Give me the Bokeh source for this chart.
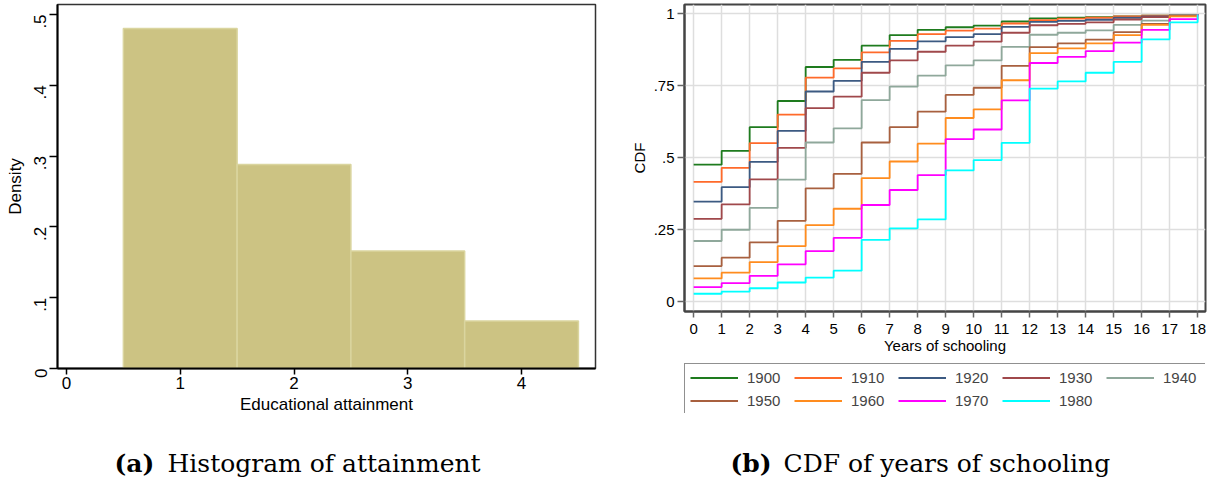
import math
from bokeh.plotting import figure
from bokeh.models import Range1d, FixedTicker, Legend, LegendItem
from bokeh.layouts import row, column
from bokeh.embed import file_html
from bokeh.resources import INLINE
from bokeh.core.properties import value

# ---------------- data ----------------
attain_levels = [1, 2, 3, 4]
attain_density = [0.480, 0.288, 0.166, 0.067]
hist_xticks = [0, 1, 2, 3, 4]
hist_yticks = [0, 0.1, 0.2, 0.3, 0.4, 0.5]
hist_ylabels = ["0", ".1", ".2", ".3", ".4", ".5"]

years = list(range(19))
cdf_yticks = [0, 0.25, 0.5, 0.75, 1]
cdf_ylabels = ["0", ".25", ".5", ".75", "1"]
cohorts = ["1900", "1910", "1920", "1930", "1940", "1950", "1960", "1970", "1980"]
cdf_1900 = [0.476, 0.524, 0.606, 0.697, 0.815, 0.840, 0.889, 0.926, 0.944, 0.953, 0.959, 0.973, 0.984, 0.986, 0.988, 0.991, 0.993, 0.995, 0.997]
cdf_1910 = [0.416, 0.465, 0.551, 0.650, 0.778, 0.810, 0.866, 0.906, 0.929, 0.941, 0.948, 0.966, 0.978, 0.983, 0.986, 0.991, 0.993, 0.995, 0.997]
cdf_1920 = [0.348, 0.398, 0.486, 0.593, 0.730, 0.767, 0.833, 0.878, 0.904, 0.919, 0.929, 0.954, 0.972, 0.975, 0.979, 0.986, 0.991, 0.995, 0.997]
cdf_1930 = [0.288, 0.338, 0.425, 0.534, 0.672, 0.712, 0.795, 0.838, 0.868, 0.889, 0.903, 0.934, 0.960, 0.965, 0.970, 0.980, 0.988, 0.994, 0.997]
cdf_1940 = [0.211, 0.250, 0.326, 0.424, 0.553, 0.602, 0.700, 0.747, 0.785, 0.821, 0.838, 0.885, 0.927, 0.934, 0.942, 0.961, 0.976, 0.995, 0.997]
cdf_1950 = [0.124, 0.153, 0.206, 0.281, 0.394, 0.444, 0.553, 0.606, 0.660, 0.718, 0.743, 0.819, 0.884, 0.897, 0.910, 0.936, 0.965, 0.993, 0.997]
cdf_1960 = [0.081, 0.101, 0.138, 0.193, 0.266, 0.323, 0.429, 0.487, 0.549, 0.638, 0.668, 0.769, 0.863, 0.880, 0.897, 0.926, 0.961, 0.991, 0.997]
cdf_1970 = [0.051, 0.065, 0.090, 0.130, 0.176, 0.222, 0.336, 0.388, 0.440, 0.565, 0.598, 0.699, 0.829, 0.850, 0.870, 0.900, 0.944, 0.981, 0.997]
cdf_1980 = [0.028, 0.035, 0.047, 0.067, 0.084, 0.108, 0.215, 0.255, 0.286, 0.456, 0.492, 0.552, 0.740, 0.765, 0.795, 0.833, 0.911, 0.970, 0.997]
cdf_series = [cdf_1900, cdf_1910, cdf_1920, cdf_1930, cdf_1940, cdf_1950, cdf_1960, cdf_1970, cdf_1980]
cohort_colors = ["#1E7B1E", "#FF6A2A", "#3C5A82", "#A0484B", "#8FA89B",
                 "#A8603F", "#FF8C1E", "#FF00FF", "#00FFFF"]

caption_tags = ["(a)", "(b)"]
caption_texts = ["Histogram of attainment", "CDF of years of schooling"]

SANS = "Liberation Sans"


def style_axis(ax, line_color, tick_color, fsize):
    ax.axis_line_color = line_color
    ax.axis_line_width = 2
    ax.major_tick_line_color = tick_color
    ax.major_tick_line_width = 1.5
    ax.major_tick_in = 0
    ax.minor_tick_line_color = None
    ax.major_label_text_font = SANS
    ax.major_label_text_font_size = fsize
    ax.major_label_text_color = "black"
    ax.axis_label_text_font = SANS
    ax.axis_label_text_font_size = fsize
    ax.axis_label_text_font_style = "normal"
    ax.axis_label_text_color = "black"


def bare(fig):
    fig.outline_line_color = None
    fig.grid.visible = False


# ---------------- left: histogram ----------------
p1 = figure(width=597, height=420, output_backend="svg", toolbar_location=None,
            x_range=Range1d(-0.079, 4.65), y_range=Range1d(0, 0.514),
            min_border_left=57, min_border_right=2, min_border_top=4, min_border_bottom=52)
p1.vbar(x=attain_levels, top=attain_density, width=1.0, bottom=0,
        fill_color="#CCC383", line_color="#DAD59F", line_width=1.5)
p1.grid.visible = False
p1.outline_line_color = "#333333"
p1.outline_line_width = 1.5
p1.xaxis.ticker = FixedTicker(ticks=hist_xticks)
p1.yaxis.ticker = FixedTicker(ticks=hist_yticks)
p1.yaxis.major_label_overrides = {t: l for t, l in zip(hist_yticks, hist_ylabels)}
p1.yaxis.major_label_orientation = math.pi / 2
p1.xaxis.axis_label = "Educational attainment"
p1.yaxis.axis_label = "Density"
style_axis(p1.xaxis[0], "black", "black", "17px")
style_axis(p1.yaxis[0], "black", "black", "17px")
p1.xaxis.major_tick_out = 6
p1.xaxis.major_label_standoff = 2
p1.xaxis.axis_label_standoff = 3
p1.yaxis.major_tick_out = 8
p1.yaxis.major_label_standoff = 9
p1.yaxis.axis_label_standoff = 1

# ---------------- right: CDFs ----------------
p2 = figure(width=613, height=358, output_backend="svg", toolbar_location=None,
            x_range=Range1d(-0.327, 18.28), y_range=Range1d(-0.0337, 1.032),
            min_border_left=80, min_border_right=3, min_border_top=4, min_border_bottom=47)
p2.outline_line_color = "#444444"
p2.outline_line_width = 2
p2.xaxis.ticker = FixedTicker(ticks=years)
p2.yaxis.ticker = FixedTicker(ticks=cdf_yticks)
p2.yaxis.major_label_overrides = {t: l for t, l in zip(cdf_yticks, cdf_ylabels)}
p2.xgrid.grid_line_color = "#DEDEDE"
p2.ygrid.grid_line_color = "#DEDEDE"
p2.xgrid.grid_line_width = 1.5
p2.ygrid.grid_line_width = 1.5
p2.xaxis.axis_label = "Years of schooling"
p2.yaxis.axis_label = "CDF"
style_axis(p2.xaxis[0], "#444444", "#666666", "15px")
style_axis(p2.yaxis[0], "#444444", "#666666", "15px")
p2.xaxis.major_tick_out = 6
p2.xaxis.major_label_standoff = 6
p2.xaxis.axis_label_standoff = 0
p2.yaxis.major_tick_out = 7
p2.yaxis.major_label_standoff = 3
p2.yaxis.axis_label_standoff = 3

for name, vals, col in zip(cohorts, cdf_series, cohort_colors):
    p2.step(x=years, y=vals, mode="after", line_color=col, line_width=1.8)

# ---------------- legend panel (below the CDF plot) ----------------
# Its frame is the legend box; the sample renderers repeat the series but lie
# outside this panel's x range, so only their legend glyphs show.
pl = figure(width=613, height=62, output_backend="svg", toolbar_location=None,
            x_range=Range1d(-100, -99), y_range=Range1d(0, 1),
            x_axis_type=None, y_axis_type=None,
            min_border_left=87, min_border_right=5, min_border_top=5, min_border_bottom=7)
bare(pl)
items = []
for name, vals, col in zip(cohorts, cdf_series, cohort_colors):
    r = pl.line(x=years, y=vals, line_color=col, line_width=2)
    items.append(LegendItem(label=name, renderers=[r]))
legend = Legend(items=items, orientation="horizontal", ncols=5,
                location="top_left", margin=0, padding=5, spacing=6,
                glyph_width=48, glyph_height=17, label_standoff=9, label_width=41,
                label_height=17,
                label_text_font=SANS, label_text_font_size="15px",
                border_line_color="#222222", border_line_width=1.5,
                background_fill_color="white", background_fill_alpha=1.0)
pl.add_layout(legend, "center")

# ---------------- captions ----------------
pc = figure(width=1210, height=60, output_backend="svg", toolbar_location=None,
            x_range=Range1d(0, 1210), y_range=Range1d(480, 420),
            x_axis_type=None, y_axis_type=None,
            min_border_left=0, min_border_right=0, min_border_top=0, min_border_bottom=0)
bare(pc)
pc.text(x=[114, 730], y=[463, 463], text=caption_tags,
        text_font=value("DejaVu Serif"), text_font_style="bold",
        text_font_size="25px", text_color="black", text_baseline="alphabetic")
pc.text(x=[167, 783], y=[463, 463], text=caption_texts,
        text_font=value("DejaVu Serif"), text_font_size="25px",
        text_color="black", text_baseline="alphabetic")

layout = column(row(p1, column(p2, pl, spacing=0), spacing=0), pc, spacing=0)
open("out.html", "w").write(file_html(layout, INLINE))
